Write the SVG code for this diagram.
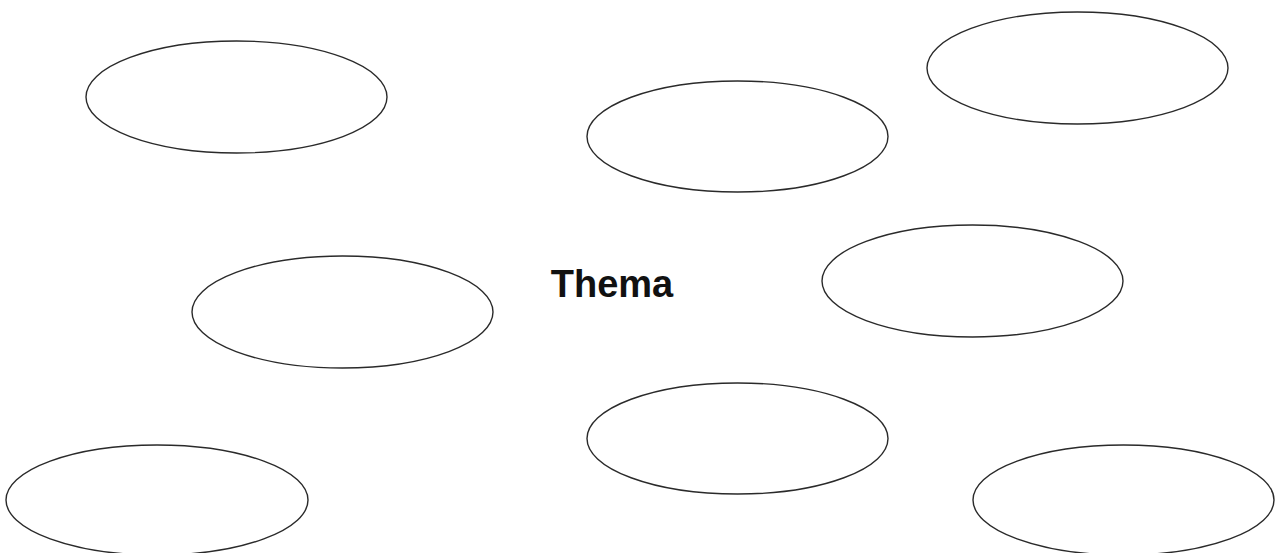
<svg xmlns="http://www.w3.org/2000/svg" width="1278" height="553" viewBox="0 0 1278 553">
<style>
.bubble{fill:#fff;stroke:#2a2a2a;stroke-width:1.4}
.title{font-family:"Liberation Sans",Arial,sans-serif;font-weight:bold;font-size:38px;fill:#111}
</style>
<rect width="1278" height="553" fill="#fff"/>
<g id="bubble-top-left"><ellipse class="bubble" cx="236.5" cy="97" rx="150.5" ry="56"/></g>
<g id="bubble-top-middle"><ellipse class="bubble" cx="737.5" cy="136.5" rx="150.5" ry="55.5"/></g>
<g id="bubble-top-right"><ellipse class="bubble" cx="1077.5" cy="68" rx="150.5" ry="56"/></g>
<g id="bubble-mid-left"><ellipse class="bubble" cx="342.5" cy="312" rx="150.5" ry="56"/></g>
<g id="bubble-mid-right"><ellipse class="bubble" cx="972.5" cy="281" rx="150.5" ry="56"/></g>
<g id="bubble-bottom-middle"><ellipse class="bubble" cx="737.5" cy="438.5" rx="150.5" ry="55.5"/></g>
<g id="bubble-bottom-left"><ellipse class="bubble" cx="157" cy="500" rx="151" ry="55"/></g>
<g id="bubble-bottom-right"><ellipse class="bubble" cx="1123.5" cy="500" rx="150.5" ry="55"/></g>
<g id="center"><text class="title" x="612" y="297" text-anchor="middle">Thema</text></g>
<g id="connectors"></g>
</svg>
